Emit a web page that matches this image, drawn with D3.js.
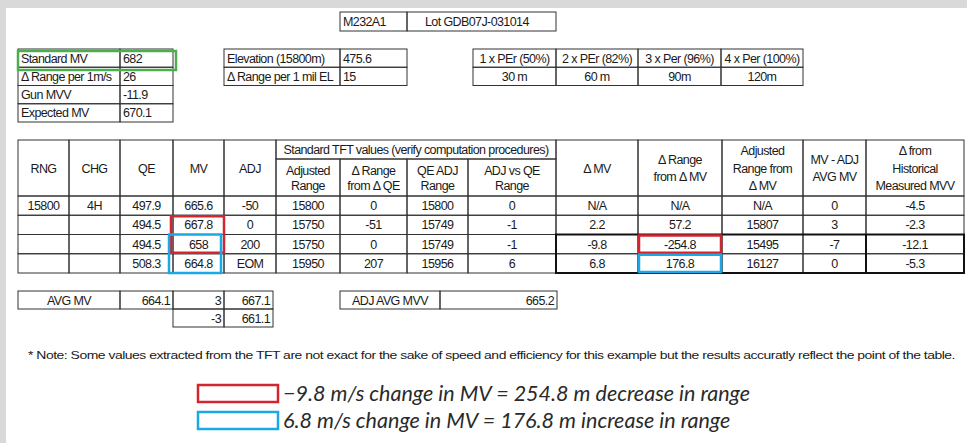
<!DOCTYPE html>
<html>
<head>
<meta charset="utf-8">
<script src="https://cdn.jsdelivr.net/npm/d3@7"></script>
<style>
  body { margin: 0; background: #d9d9d9; }
  svg { display: block; }
  .cell text { font-family: "Liberation Sans", Arial, sans-serif; font-size: 12.5px; letter-spacing: -0.6px; fill: #1a1a1a; }
</style>
</head>
<body>
<svg id="sheet"></svg>
<script>
// ---- data ----
const titleCells = ["M232A1", "Lot GDB07J-031014"];
const mvLabels = ["Standard MV", "\u0394 Range per 1m/s", "Gun MVV", "Expected MV"];
const mvValues = ["682", "26", "-11.9", "670.1"];
const elevLabels = ["Elevation (15800m)", "\u0394 Range per 1 mil EL"];
const elevValues = ["475.6", "15"];
const perLabels = ["1 x PEr (50%)", "2 x PEr (82%)", "3 x Per (96%)", "4 x Per (100%)"];
const perValues = ["30 m", "60 m", "90m", "120m"];

const rng = ["15800", "", "", ""];
const chg = ["4H", "", "", ""];
const qe = [497.9, 494.5, 494.5, 508.3];
const mv = [665.6, 667.8, 658, 664.8];
const adj = ["-50", "0", "200", "EOM"];
const adjustedRange = [15800, 15750, 15750, 15950];
const dRangeFromQE = [0, -51, 0, 207];
const qeAdjRange = [15800, 15749, 15749, 15956];
const adjVsQeRange = [0, -1, -1, 6];
const dMV = ["N/A", 2.2, -9.8, 6.8];
const dRangeFromMV = ["N/A", 57.2, -254.8, 176.8];
const adjRangeFromMV = ["N/A", 15807, 15495, 16127];
const mvAdjAvg = [0, 3, -7, 0];
const dHistorical = [-4.5, -2.3, -12.1, -5.3];

const headers = [["RNG"], ["CHG"], ["QE"], ["MV"], ["ADJ"],
  ["Adjusted", "Range"], ["\u0394 Range", "from \u0394 QE"], ["QE ADJ", "Range"], ["ADJ vs QE", "Range"],
  ["\u0394 MV"], ["\u0394 Range", "from \u0394 MV"], ["Adjusted", "Range from", "\u0394 MV"],
  ["MV - ADJ", "AVG MV"], ["\u0394 from", "Historical", "Measured MVV"]];
const groupHeader = "Standard TFT values (verify computation procedures)";

const avgLabel = "AVG MV", avgValue = 664.1;
const avgSpread = [3, -3], avgBounds = [667.1, 661.1];
const adjAvgLabel = "ADJ AVG MVV", adjAvgValue = 665.2;

const note = "* Note:  Some values extracted from the TFT are not exact for the sake of speed and efficiency for this example but the results accuratly reflect the point of the table.";
const legendItems = [
  { text: "\u22129.8 m/s change in MV = 254.8 m decrease in range", color: "#d3242f" },
  { text: "6.8 m/s change in MV = 176.8 m increase in range", color: "#19a9e6" }
];

// ---- layout (spreadsheet grid) ----
const W = 967, H = 443;
const colEdges = [18, 69, 120, 173, 224, 276, 340, 407, 468, 556, 638, 722, 803, 866, 964];

const svg = d3.select("#sheet").attr("width", W).attr("height", H);
svg.append("rect").attr("x", 6).attr("y", 8).attr("width", W - 6).attr("height", H - 8).attr("fill", "#fff");

const col = d3.scaleOrdinal().domain(d3.range(colEdges.length)).range(colEdges);

// generic cell drawer: {x0,x1,y0,y1,lines,align,pad}
function drawCells(cells, g) {
  const sel = g.selectAll("g.cell").data(cells).join("g").attr("class", "cell");
  sel.append("rect")
    .attr("x", d => d.x0).attr("y", d => d.y0)
    .attr("width", d => d.x1 - d.x0).attr("height", d => d.y1 - d.y0)
    .attr("fill", "none").attr("stroke", "#333").attr("stroke-width", 1);
  sel.each(function(d) {
    const lines = d.lines;
    const lh = d.lh || 16.5;
    const mid = (d.y0 + d.y1) / 2;
    const start = mid - (lines.length - 1) * lh / 2;
    const pad = d.pad || 3;
    const tx = d.align === "start" ? d.x0 + pad : d.align === "end" ? d.x1 - pad : (d.x0 + d.x1) / 2;
    d3.select(this).selectAll("text").data(lines).join("text")
      .attr("x", tx).attr("y", (l, i) => start + i * lh)
      .attr("dy", "0.36em")
      .attr("text-anchor", d.align || "middle")
      .text(l => l);
  });
}

const g = svg.append("g");

// title box
drawCells([
  { x0: 340, x1: 407, y0: 12, y1: 31, lines: [titleCells[0]], align: "start" },
  { x0: 407, x1: 556, y0: 12, y1: 31, lines: [titleCells[1]], align: "start", pad: 18 }
], g.append("g"));

// top-left table
const topRows = d3.scaleBand().domain(d3.range(4)).range([49, 122]);
drawCells(mvLabels.flatMap((l, i) => [
  { x0: 18, x1: 120, y0: topRows(i), y1: topRows(i) + topRows.bandwidth(), lines: [l], align: "start" },
  { x0: 120, x1: 173, y0: topRows(i), y1: topRows(i) + topRows.bandwidth(), lines: [String(mvValues[i])], align: "start" }
]), g.append("g"));

// elevation table
drawCells(elevLabels.flatMap((l, i) => [
  { x0: 224, x1: 340, y0: topRows(i), y1: topRows(i) + topRows.bandwidth(), lines: [l], align: "start" },
  { x0: 340, x1: 407, y0: topRows(i), y1: topRows(i) + topRows.bandwidth(), lines: [elevValues[i]], align: "start" }
]), g.append("g"));

// PEr table
const perX = [473, 556, 638, 721, 803];
drawCells(perLabels.flatMap((l, i) => [
  { x0: perX[i], x1: perX[i + 1], y0: topRows(0), y1: topRows(1), lines: [l] },
  { x0: perX[i], x1: perX[i + 1], y0: topRows(1), y1: topRows(2), lines: [perValues[i]] }
]), g.append("g"));

// main table
const hdrTop = 140, grpBottom = 159, hdrBottom = 196;
const rowY = d3.scaleBand().domain(d3.range(4)).range([196, 273]);
const mainCells = [];
headers.forEach((h, i) => {
  const grouped = i >= 5 && i <= 8;
  mainCells.push({ x0: col(i), x1: col(i + 1), y0: grouped ? grpBottom : hdrTop, y1: hdrBottom, lines: h,
    lh: h.length === 3 ? 17.5 : (grouped ? 15 : 16.5) });
});
mainCells.push({ x0: col(5), x1: col(9), y0: hdrTop, y1: grpBottom, lines: [groupHeader] });
const columns = [rng, chg, qe, mv, adj, adjustedRange, dRangeFromQE, qeAdjRange, adjVsQeRange,
  dMV, dRangeFromMV, adjRangeFromMV, mvAdjAvg, dHistorical];
columns.forEach((vals, i) => {
  vals.forEach((v, r) => {
    mainCells.push({ x0: col(i), x1: col(i + 1), y0: rowY(r), y1: rowY(r) + rowY.bandwidth(), lines: [String(v)] });
  });
});
drawCells(mainCells, g.append("g"));

// heavy outline around the last two rows of the ΔMV block
const heavy = g.append("g").attr("fill", "none").attr("stroke", "#111").attr("stroke-width", 2);
heavy.append("rect").attr("x", col(9)).attr("y", rowY(2))
  .attr("width", col(14) - col(9)).attr("height", rowY(3) + rowY.bandwidth() - rowY(2));
heavy.append("line").attr("x1", col(13)).attr("x2", col(13)).attr("y1", rowY(2)).attr("y2", rowY(3) + rowY.bandwidth());

// highlight boxes
const hl = g.append("g").attr("fill", "none").attr("stroke-width", 2.5);
hl.append("rect").attr("x", col(3) - 2).attr("y", rowY(1) + 1).attr("width", col(4) - col(3) + 2).attr("height", rowY.bandwidth() * 2 - 2)
  .attr("stroke", legendItems[0].color);
hl.append("rect").attr("x", col(3) - 4).attr("y", rowY(2)).attr("width", col(4) - col(3) + 1).attr("height", rowY.bandwidth() * 2)
  .attr("stroke", legendItems[1].color);
hl.append("rect").attr("x", col(10) + 1).attr("y", rowY(2) + 1).attr("width", col(11) - col(10) - 2).attr("height", rowY.bandwidth() - 2)
  .attr("stroke", legendItems[0].color);
hl.append("rect").attr("x", col(10) + 1).attr("y", rowY(3) + 1).attr("width", col(11) - col(10) - 2).attr("height", rowY.bandwidth() - 2)
  .attr("stroke", legendItems[1].color);

// green box on standard MV
g.append("rect").attr("x", 18).attr("y", 51).attr("width", 158).attr("height", 19)
  .attr("fill", "none").attr("stroke", "#4cae4f").attr("stroke-width", 2.5);

// bottom tables
const botRows = [291, 309, 327];
drawCells([
  { x0: col(0), x1: col(2), y0: botRows[0], y1: botRows[1], lines: [avgLabel] },
  { x0: col(2), x1: col(3), y0: botRows[0], y1: botRows[1], lines: [String(avgValue)], align: "end" },
  { x0: col(3), x1: col(4), y0: botRows[0], y1: botRows[1], lines: [String(avgSpread[0])], align: "end" },
  { x0: col(4), x1: 273, y0: botRows[0], y1: botRows[1], lines: [String(avgBounds[0])], align: "end" },
  { x0: col(3), x1: col(4), y0: botRows[1], y1: botRows[2], lines: [String(avgSpread[1])], align: "end" },
  { x0: col(4), x1: 273, y0: botRows[1], y1: botRows[2], lines: [String(avgBounds[1])], align: "end" },
  { x0: 340, x1: 440, y0: botRows[0], y1: botRows[1], lines: [adjAvgLabel] },
  { x0: 440, x1: 557, y0: botRows[0], y1: botRows[1], lines: [String(adjAvgValue)], align: "end" }
], g.append("g"));

// note
svg.append("text").attr("x", 28).attr("y", 359)
  .attr("font-family", "Liberation Sans, Arial, sans-serif").attr("font-size", 11.5)
  .attr("letter-spacing", "-0.4px").attr("fill", "#1a1a1a")
  .attr("textLength", 927).attr("lengthAdjust", "spacingAndGlyphs")
  .text(note);

// legend
const leg = svg.append("g").selectAll("g").data(legendItems).join("g")
  .attr("transform", (d, i) => `translate(0, ${385 + i * 27})`);
leg.append("rect").attr("x", 198).attr("y", 0).attr("width", 80).attr("height", 17)
  .attr("fill", "none").attr("stroke", d => d.color).attr("stroke-width", 2.5);
leg.append("text").attr("x", 283).attr("y", 16)
  .attr("font-family", "Lato, 'Noto Sans', sans-serif").attr("font-style", "italic")
  .attr("font-size", 21.5).attr("fill", "#2a2a2a")
  .text(d => d.text);
</script>
</body>
</html>
